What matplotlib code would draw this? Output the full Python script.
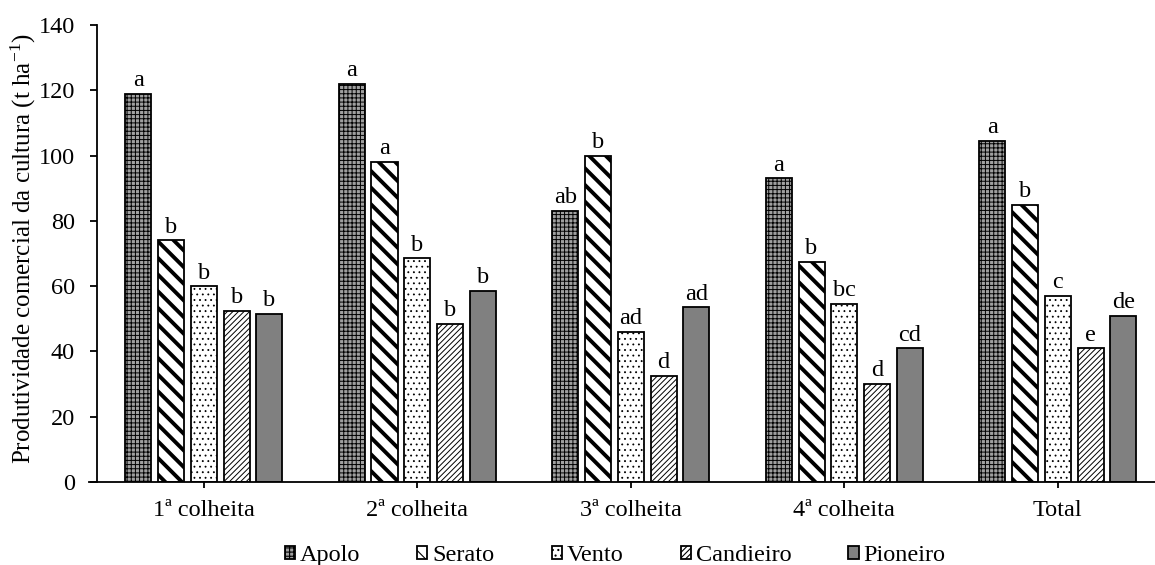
import numpy as np
import matplotlib
matplotlib.use("Agg")
import matplotlib.pyplot as plt

plt.rcParams['font.family'] = ['Liberation Serif', 'DejaVu Serif']
plt.rcParams['mathtext.fontset'] = 'custom'
plt.rcParams['mathtext.rm'] = 'Liberation Serif'
plt.rcParams['hatch.linewidth'] = 0.8

grupos = ['1ª colheita', '2ª colheita', '3ª colheita', '4ª colheita', 'Total']
cultivares = ['Apolo', 'Serato', 'Vento', 'Candieiro', 'Pioneiro']

apolo = [119, 122, 83, 93, 104.5]
serato = [74, 98, 100, 67.5, 85]
vento = [60, 68.5, 46, 54.5, 57]
candieiro = [52.5, 48.5, 32.5, 30, 41]
pioneiro = [51.5, 58.5, 53.5, 41, 51]

letras_apolo = ['a', 'a', 'ab', 'a', 'a']
letras_serato = ['b', 'a', 'b', 'b', 'b']
letras_vento = ['b', 'b', 'ad', 'bc', 'c']
letras_candieiro = ['b', 'b', 'd', 'd', 'e']
letras_pioneiro = ['b', 'b', 'ad', 'cd', 'de']

valores = [apolo, serato, vento, candieiro, pioneiro]
letras = [letras_apolo, letras_serato, letras_vento, letras_candieiro, letras_pioneiro]
# estilo de cada cultivar
cores = ['#a0a0a0', 'white', 'white', 'white', '#808080']
hachuras = ['++++', '\\\\', '...', '//////', '']
esp_hach = [0.7, 2.8, 0.6, 0.7, 0.8]
fs = 17.5

fig = plt.figure(figsize=(11.55, 5.65), dpi=100)
ax = fig.add_axes([0.084, 0.1469, 0.916, 0.8089])

x = np.arange(len(grupos))
larg = 0.122
passo = 0.1536
for i in range(5):
    pos = x + (i - 2) * passo
    barras = ax.bar(pos, valores[i], larg, color=cores[i], edgecolor='black',
                    hatch=hachuras[i], linewidth=1.3, label=cultivares[i])
    for b in barras:
        if hasattr(b, 'set_hatch_linewidth'):
            b.set_hatch_linewidth(esp_hach[i])
    for xi, v, l in zip(pos, valores[i], letras[i]):
        ax.text(xi, v + 0.8, l, ha='center', va='bottom', fontsize=fs)

ax.set_xlim(-0.5, 4.455)
ax.set_ylim(0, 140)
ax.set_yticks(range(0, 141, 20))
ax.set_xticks(x)
ax.set_xticklabels(grupos)
ax.tick_params(axis='both', labelsize=fs, width=1.3)
ax.tick_params(axis='x', direction='out', length=4, pad=9)
ax.tick_params(axis='y', direction='out', length=5, pad=11)
ax.spines['top'].set_visible(False)
ax.spines['right'].set_visible(False)
ax.spines['left'].set_linewidth(1.3)
ax.spines['bottom'].set_linewidth(1.3)
ax.spines['bottom'].set_bounds(-0.5 - 8 / 213.5, 4.455)
ax.set_ylabel('Produtividade comercial da cultura (t ha$\\mathregular{^{-1}}$)', fontsize=18)
ax.yaxis.set_label_coords(-0.056, 0.51)

fig.legend(loc='center', bbox_to_anchor=(0.5325, 0.017), ncol=5, frameon=False,
           fontsize=fs, handlelength=0.42, handleheight=0.42, columnspacing=2.35,
           handletextpad=0.2, borderpad=0)

fig.savefig('out.png', dpi=100)
